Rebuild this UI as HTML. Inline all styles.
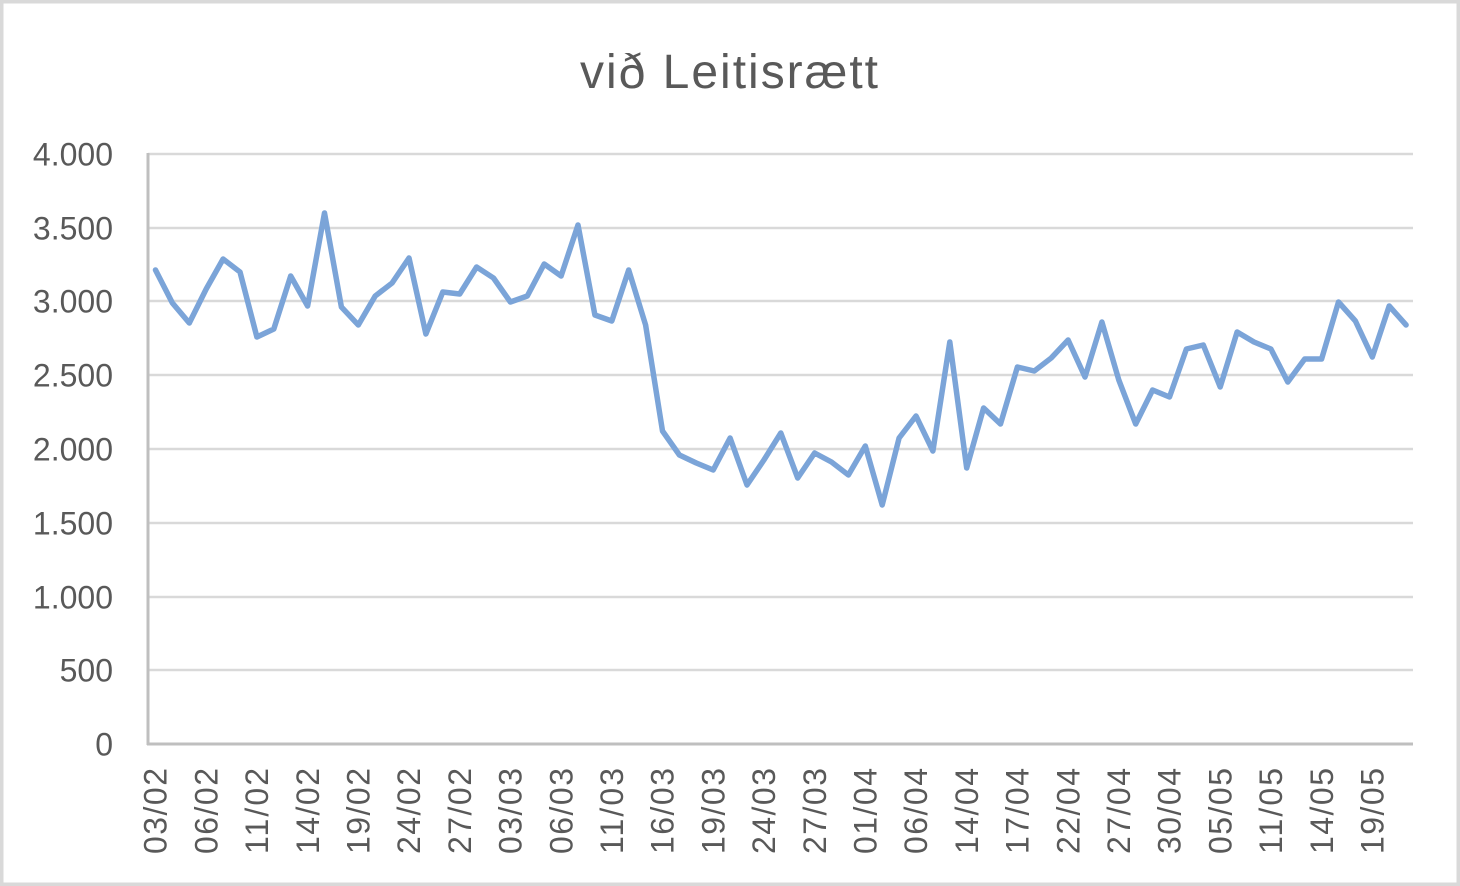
<!DOCTYPE html>
<html>
<head>
<meta charset="utf-8">
<style>
  html, body { margin: 0; padding: 0; background: #ffffff; }
  body { width: 1460px; height: 886px; overflow: hidden; }
  svg { display: block; }
  text { font-family: "Liberation Sans", "DejaVu Sans", sans-serif; fill: #595959; }
</style>
</head>
<body>
<svg width="1460" height="886" viewBox="0 0 1460 886" xmlns="http://www.w3.org/2000/svg">
  <rect x="0" y="0" width="1460" height="886" fill="#ffffff"/>
  <rect x="1.75" y="1.75" width="1456.5" height="882.5" fill="none" stroke="#d9d9d9" stroke-width="3.5"/>

  <!-- title -->
  <text x="729" y="88" font-size="48" text-anchor="middle" textLength="298" lengthAdjust="spacing">við Leitisrætt</text>

  <!-- gridlines -->
  <g stroke="#d9d9d9" stroke-width="2.5">
    <line x1="148" y1="154" x2="1413" y2="154"/>
    <line x1="148" y1="228" x2="1413" y2="228"/>
    <line x1="148" y1="301" x2="1413" y2="301"/>
    <line x1="148" y1="375" x2="1413" y2="375"/>
    <line x1="148" y1="449" x2="1413" y2="449"/>
    <line x1="148" y1="523" x2="1413" y2="523"/>
    <line x1="148" y1="597" x2="1413" y2="597"/>
    <line x1="148" y1="670" x2="1413" y2="670"/>
  </g>
  <!-- axes -->
  <g stroke="#bfbfbf" stroke-width="3">
    <line x1="148" y1="153" x2="148" y2="745"/>
    <line x1="147" y1="744" x2="1413" y2="744"/>
  </g>

  <!-- y labels -->
  <g font-size="32" text-anchor="end">
    <text x="113" y="154" dy="0.36em">4.000</text>
    <text x="113" y="228" dy="0.36em">3.500</text>
    <text x="113" y="301" dy="0.36em">3.000</text>
    <text x="113" y="375" dy="0.36em">2.500</text>
    <text x="113" y="449" dy="0.36em">2.000</text>
    <text x="113" y="523" dy="0.36em">1.500</text>
    <text x="113" y="597" dy="0.36em">1.000</text>
    <text x="113" y="670" dy="0.36em">500</text>
    <text x="113" y="744" dy="0.36em">0</text>
  </g>

  <!-- x labels -->
  <g font-size="32" text-anchor="end">
    <text transform="translate(155.5,768) rotate(-90)" dy="0.35em" textLength="86" lengthAdjust="spacing">03/02</text>
    <text transform="translate(206.2,768) rotate(-90)" dy="0.35em" textLength="86" lengthAdjust="spacing">06/02</text>
    <text transform="translate(256.9,768) rotate(-90)" dy="0.35em" textLength="86" lengthAdjust="spacing">11/02</text>
    <text transform="translate(307.6,768) rotate(-90)" dy="0.35em" textLength="86" lengthAdjust="spacing">14/02</text>
    <text transform="translate(358.3,768) rotate(-90)" dy="0.35em" textLength="86" lengthAdjust="spacing">19/02</text>
    <text transform="translate(409.0,768) rotate(-90)" dy="0.35em" textLength="86" lengthAdjust="spacing">24/02</text>
    <text transform="translate(459.7,768) rotate(-90)" dy="0.35em" textLength="86" lengthAdjust="spacing">27/02</text>
    <text transform="translate(510.4,768) rotate(-90)" dy="0.35em" textLength="86" lengthAdjust="spacing">03/03</text>
    <text transform="translate(561.1,768) rotate(-90)" dy="0.35em" textLength="86" lengthAdjust="spacing">06/03</text>
    <text transform="translate(611.8,768) rotate(-90)" dy="0.35em" textLength="86" lengthAdjust="spacing">11/03</text>
    <text transform="translate(662.5,768) rotate(-90)" dy="0.35em" textLength="86" lengthAdjust="spacing">16/03</text>
    <text transform="translate(713.2,768) rotate(-90)" dy="0.35em" textLength="86" lengthAdjust="spacing">19/03</text>
    <text transform="translate(763.9,768) rotate(-90)" dy="0.35em" textLength="86" lengthAdjust="spacing">24/03</text>
    <text transform="translate(814.6,768) rotate(-90)" dy="0.35em" textLength="86" lengthAdjust="spacing">27/03</text>
    <text transform="translate(865.3,768) rotate(-90)" dy="0.35em" textLength="86" lengthAdjust="spacing">01/04</text>
    <text transform="translate(916.0,768) rotate(-90)" dy="0.35em" textLength="86" lengthAdjust="spacing">06/04</text>
    <text transform="translate(966.7,768) rotate(-90)" dy="0.35em" textLength="86" lengthAdjust="spacing">14/04</text>
    <text transform="translate(1017.4,768) rotate(-90)" dy="0.35em" textLength="86" lengthAdjust="spacing">17/04</text>
    <text transform="translate(1068.1,768) rotate(-90)" dy="0.35em" textLength="86" lengthAdjust="spacing">22/04</text>
    <text transform="translate(1118.8,768) rotate(-90)" dy="0.35em" textLength="86" lengthAdjust="spacing">27/04</text>
    <text transform="translate(1169.5,768) rotate(-90)" dy="0.35em" textLength="86" lengthAdjust="spacing">30/04</text>
    <text transform="translate(1220.2,768) rotate(-90)" dy="0.35em" textLength="86" lengthAdjust="spacing">05/05</text>
    <text transform="translate(1270.9,768) rotate(-90)" dy="0.35em" textLength="86" lengthAdjust="spacing">11/05</text>
    <text transform="translate(1321.6,768) rotate(-90)" dy="0.35em" textLength="86" lengthAdjust="spacing">14/05</text>
    <text transform="translate(1372.3,768) rotate(-90)" dy="0.35em" textLength="86" lengthAdjust="spacing">19/05</text>
  </g>

  <!-- series -->
  <polyline fill="none" stroke="#7ba4d8" stroke-width="5.5" stroke-linejoin="round" stroke-linecap="round"
    points="155.5,270 172.4,303 189.3,323 206.2,289 223.1,259 240.0,272 256.9,337 273.8,329 290.7,276 307.6,306 324.5,213 341.4,307 358.3,325 375.2,296 392.1,283 409.0,258 425.9,334 442.8,292 459.7,294 476.6,267 493.5,278 510.4,302 527.3,296 544.2,264 561.1,276 578.0,225 594.9,315 611.8,321 628.7,270 645.6,325 662.5,431 679.4,455 696.3,463 713.2,470 730.1,438 747.0,485 763.9,460 780.8,433 797.7,478 814.6,453 831.5,462 848.4,475 865.3,446 882.2,505 899.1,438 916.0,416 932.9,451 949.8,342 966.7,468 983.6,408 1000.5,424 1017.4,367 1034.3,371 1051.2,358 1068.1,340 1085.0,377 1101.9,322 1118.8,380 1135.7,424 1152.6,390 1169.5,397 1186.4,349 1203.3,345 1220.2,387 1237.1,332 1254.0,342 1270.9,349 1287.8,382 1304.7,359 1321.6,359 1338.5,302 1355.4,321 1372.3,357 1389.2,306 1406.1,325"/>
</svg>
</body>
</html>
